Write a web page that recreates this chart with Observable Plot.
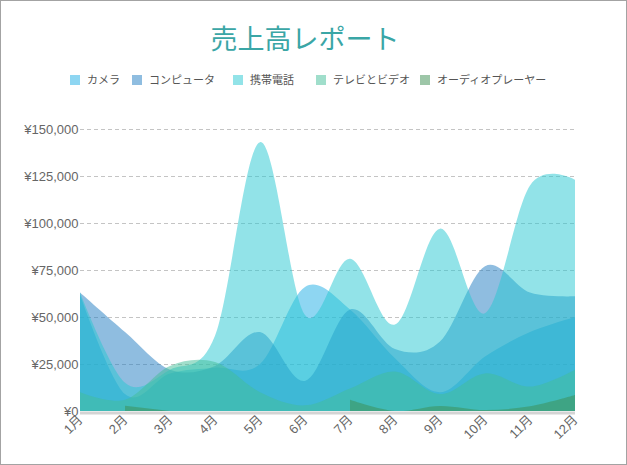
<!DOCTYPE html>
<html><head><meta charset="utf-8">
<script src="https://cdn.jsdelivr.net/npm/d3@7"></script>
<script src="https://cdn.jsdelivr.net/npm/@observablehq/plot@0.6"></script>
<style>
body{margin:0;background:#fff;}
#wrap{position:relative;width:627px;height:465px;overflow:hidden;font-family:"Liberation Sans","Noto Sans CJK JP",sans-serif;background:#fff;}
#frame{position:absolute;left:0;top:0;width:627px;height:465px;box-sizing:border-box;border:1px solid #a3a3a3;pointer-events:none;}
#title{position:absolute;left:105px;width:400px;top:19px;text-align:center;font-size:27px;color:#3aa6a6;font-family:"Noto Sans CJK JP",sans-serif;line-height:38px;}
#legend{position:absolute;top:69px;left:0;width:627px;height:20px;font-size:11px;color:#555;font-family:"Noto Sans CJK JP",sans-serif;}
.li{position:absolute;top:0;white-space:nowrap;line-height:20px;}
.sw{display:inline-block;width:10px;height:10px;vertical-align:-1px;margin-right:7px;}
#chart{position:absolute;left:0;top:0;}
</style></head>
<body>
<div id="wrap">
  <div id="chart"></div>
  <div id="title">売上高レポート</div>
  <div id="legend"></div>
  <div id="frame"></div>
</div>
<script>
const months = ["1月","2月","3月","4月","5月","6月","7月","8月","9月","10月","11月","12月"];
const seriesNames = ["カメラ","コンピュータ","携帯電話","テレビとビデオ","オーディオプレーヤー"];
const colors = ["#1dade5","#1f7bc1","#25c7d1","#41bd97","#3b8d51"];
const camera   = [62000, 9000, 20000, 23000, 25000, 66000, 54000, 28000, 10000, 29000, 42000, 50000];
const computer = [63000, 42000, 22000, 24000, 42000, 16000, 54000, 33000, 37000, 77000, 63000, 61000];
const mobile   = [63000, 15000, 22000, 40000, 143000, 51000, 81000, 46000, 97000, 52000, 120000, 123000];
const tv       = [10000, 6000, 24000, 26000, 10000, 3000, 12000, 21000, 9000, 20000, 13000, 22000];
const audio    = [null, 2800, 0, null, null, null, 6000, 0, 2700, 500, 2500, 8500];
const yTicks = [0, 25000, 50000, 75000, 100000, 125000, 150000];
const legendX = [70, 132, 233, 316, 420];

const seriesValues = [camera, computer, mobile, tv, audio];
const fmt = d3.format(",");

const areas = seriesValues.map((vals, k) =>
  Plot.areaY(vals.map((v, i) => ({i, v})), {
    x: "i", y1: 0, y2: "v", curve: "cardinal",
    fill: colors[k], fillOpacity: 0.5
  })
);

const chart = Plot.plot({
  width: 627, height: 465,
  marginLeft: 80, marginRight: 52, marginTop: 129, marginBottom: 54,
  x: {type: "linear", domain: [0, 11], axis: null, label: null},
  y: {domain: [0, 150000], axis: null, label: null},
  style: {fontFamily: '"Liberation Sans","Noto Sans CJK JP",sans-serif', fontSize: "13px", color: "#666", background: "transparent"},
  marks: [
    Plot.gridY(yTicks.slice(1), {stroke: "#c4c4c4", strokeOpacity: 1, strokeDasharray: "4,3"}),
    ...areas,
    Plot.ruleY([0], {stroke: "#d4d4d4", strokeWidth: 3, dy: 1.5}),
    Plot.axisY(yTicks, {tickSize: 0, tickPadding: 2, fontSize: 13, label: null, tickFormat: v => "¥" + fmt(v)}),
    Plot.axisX(d3.range(12), {tickSize: 0, tickPadding: 6, tickRotate: -45, fontSize: 13, label: null, tickFormat: i => months[i]})
  ]
});
document.getElementById("chart").appendChild(chart);

const legend = document.getElementById("legend");
seriesNames.forEach((name, k) => {
  const item = document.createElement("div");
  item.className = "li";
  item.style.left = legendX[k] + "px";
  const sw = document.createElement("span");
  sw.className = "sw";
  sw.style.background = colors[k];
  sw.style.opacity = 0.5;
  item.appendChild(sw);
  item.appendChild(document.createTextNode(name));
  legend.appendChild(item);
});
</script>
</body></html>
